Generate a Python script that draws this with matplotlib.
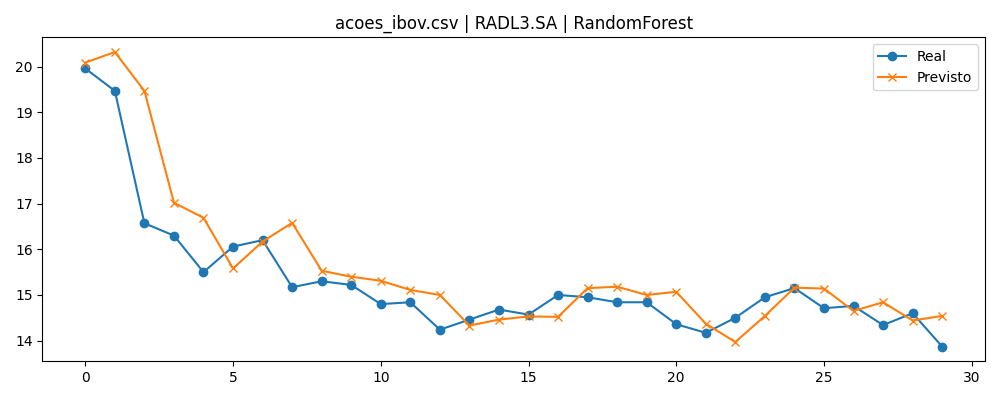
import matplotlib
matplotlib.use("Agg")
import matplotlib.pyplot as plt

TITLE = "acoes_ibov.csv | RADL3.SA | RandomForest"

real = [19.96, 19.47, 16.57, 16.30, 15.50, 16.06, 16.20, 15.17, 15.30, 15.22,
        14.80, 14.84, 14.24, 14.46, 14.68, 14.57, 15.00, 14.95, 14.84, 14.84,
        14.36, 14.17, 14.50, 14.95, 15.15, 14.71, 14.76, 14.34, 14.60, 13.87]
previsto = [20.09, 20.32, 19.47, 17.02, 16.69, 15.58, 16.17, 16.58, 15.53, 15.40,
            15.31, 15.11, 15.00, 14.33, 14.46, 14.53, 14.52, 15.15, 15.18, 15.00,
            15.07, 14.37, 13.97, 14.54, 15.16, 15.14, 14.65, 14.84, 14.44, 14.54]

fig, ax = plt.subplots(figsize=(10, 4), dpi=100)
ax.plot(range(len(real)), real, marker="o", label="Real")
ax.plot(range(len(previsto)), previsto, marker="x", label="Previsto")
ax.set_title(TITLE)
ax.legend()
fig.tight_layout()
fig.savefig("out.png")
